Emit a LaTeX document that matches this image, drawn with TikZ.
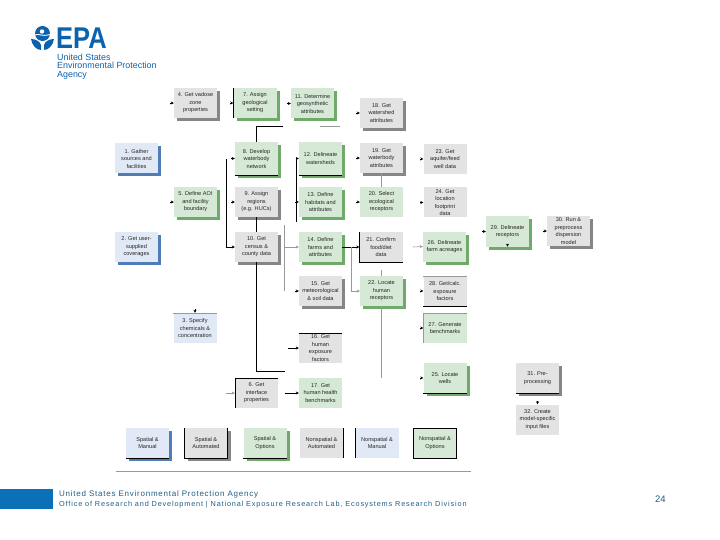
\documentclass[tikz,border=0pt]{standalone}
\usepackage{fontspec}
\setmainfont{Liberation Sans}
\usepackage{xcolor}
\usetikzlibrary{arrows.meta,shadows}
\definecolor{epaBlue}{HTML}{0B63AE}
\definecolor{footBlue}{HTML}{0A70B8}
\definecolor{footText}{HTML}{1F5D85}
\definecolor{manFill}{HTML}{E2E9F6}
\definecolor{manEdge}{HTML}{4F7DB8}
\definecolor{autoFill}{HTML}{E3E3E3}
\definecolor{autoEdge}{HTML}{868686}
\definecolor{optFill}{HTML}{D6E9D6}
\definecolor{optEdge}{HTML}{6FAA6A}
\begin{document}
\begin{tikzpicture}[x=1pt,y=-1pt,>={Stealth[length=3pt,width=3pt]},
  box/.style={minimum width=43pt,minimum height=30pt,inner sep=0pt,align=center,
    font=\fontsize{5.6}{7.5}\selectfont,text=black!85},
  man/.style={box,fill=manFill},
  auto/.style={box,fill=autoFill},
  opt/.style={box,fill=optFill},
  manS/.style={man,drop shadow={shadow xshift=3pt,shadow yshift=-3pt,fill=manEdge,opacity=1}},
  autoS/.style={auto,drop shadow={shadow xshift=3pt,shadow yshift=-3pt,fill=autoEdge,opacity=1}},
  optS/.style={opt,drop shadow={shadow xshift=3pt,shadow yshift=-3pt,fill=optEdge,opacity=1}},
  link/.style={black,line width=0.6pt},
  faint/.style={black!40,line width=0.6pt},
  rim/.style={black,line width=0.6pt},
  foot/.style={inner sep=0pt,anchor=west,text=footText}]
\useasboundingbox (0,0) rectangle (720,540);
% --- logo ---
\fill[epaBlue] (42.5,33.5) circle (7.5);
\fill[white] (42,31.5) circle (2.2);
\draw[white,line width=0.9pt] (35,35) .. controls (39,33) and (41,37) .. (50,34.5);
\fill[epaBlue] (31,39) .. controls (35,39) and (40,41) .. (41,45) -- (41,50) .. controls (36,50) and (32,45) .. (31,39) -- cycle;
\fill[epaBlue] (54,39) .. controls (50,39) and (45,41) .. (44,45) -- (44,50) .. controls (49,50) and (53,45) .. (54,39) -- cycle;
\node[inner sep=0pt,anchor=west,text=epaBlue,xscale=0.85,font=\fontsize{30}{30}\bfseries\selectfont] (epa) at (56,38) {EPA};
\node[inner sep=0pt,anchor=north west,align=left,text=epaBlue,font=\fontsize{8.9}{8.6}\selectfont] (agency) at (57,53.5) {United States\\Environmental Protection\\Agency};
% --- task boxes ---
\node[autoS] (b4) at (195.5,103) {4. Get vadose\\zone\\properties};
\node[optS] (b7) at (255,103) {7. Assign\\geological\\setting};
\node[optS] (b11) at (312.5,103.5) {11. Determine\\geosynthetic\\attributes};
\node[autoS] (b18) at (381.5,113) {18. Get\\watershed\\attributes};
\node[manS] (b1) at (136.5,158.5) {1. Gather\\sources and\\facilities};
\node[optS,minimum height=33pt] (b8) at (256.5,158.5) {8. Develop\\waterbody\\network};
\node[optS,minimum height=33pt] (b12) at (320.5,158.5) {12. Delineate\\watersheds};
\node[autoS] (b19) at (381.5,158) {19. Get\\waterbody\\attributes};
\node[auto] (b23) at (445,159) {23. Get\\aquifer/feed\\well data};
\node[optS] (b5) at (195.5,202) {5. Define AOI\\and facility\\boundary};
\node[autoS] (b9) at (256.5,202) {9. Assign\\regions\\(e.g. HUCs)};
\node[optS] (b13) at (320.5,202) {13. Define\\habitats and\\attributes};
\node[opt] (b20) at (381.5,202) {20. Select\\ecological\\receptors};
\node[auto] (b24) at (445,202.5) {24. Get\\location\\footprint\\data};
\node[manS] (b2) at (136.5,247) {2. Get user-\\supplied\\coverages};
\node[autoS] (b10) at (256.5,247) {10. Get\\census \&\\county data};
\node[optS] (b14) at (320.5,247) {14. Define\\farms and\\attributes};
\node[auto] (b21) at (381,247) {21. Confirm\\food/diet\\data};
\node[optS] (b26) at (444.5,246.5) {26. Delineate\\farm acreages};
\node[optS] (b29) at (507.5,231.5) {29. Delineate\\receptors};
\node[autoS] (b30) at (568.5,231) {30. Run \&\\preprocess\\dispersion\\model};
\node[autoS] (b15) at (320.5,291) {15. Get\\meteorological\\\& soil data};
\node[optS] (b22) at (381.5,291) {22. Locate\\human\\receptors};
\node[auto] (b28) at (445,291) {28. Get/calc.\\exposure\\factors};
\node[man] (b3) at (195,328) {3. Specify\\chemicals \&\\concentration};
\node[opt] (b27) at (445,328) {27. Generate\\benchmarks};
\node[auto] (b16) at (320.5,348) {16. Get\\human\\exposure\\factors};
\node[optS] (b25) at (445,378) {25. Locate\\wells};
\node[autoS] (b31) at (537.5,378) {31. Pre-\\processing};
\node[auto] (b6) at (256.5,393) {6. Get\\interface\\properties};
\node[opt] (b17) at (320.5,393) {17. Get\\human health\\benchmarks};
\node[auto] (b32) at (537.5,419.5) {32. Create\\model-specific\\input files};
% --- legend ---
\node[manS] (k1) at (147.5,443) {Spatial \&\\Manual};
\node[autoS] (k2) at (206,443) {Spatial \&\\Automated};
\node[optS] (k3) at (265,443) {Spatial \&\\Options};
\node[auto] (k4) at (321.5,443) {Nonspatial \&\\Automated};
\node[man] (k5) at (377,443) {Nonspatial \&\\Manual};
\node[opt] (k6) at (435,443) {Nonspatial \&\\Options};
% --- junctions ---
\coordinate (j7) at (256.5,126);
\coordinate (j7r) at (283,126);
\coordinate (j11l) at (320,126);
\coordinate (j11r) at (340,126);
\coordinate (jA) at (226,159);
\coordinate (jB) at (226,247);
\coordinate (jC) at (296,158.5);
\coordinate (jD) at (296,222);
\coordinate (jE) at (284.5,225);
\coordinate (jF) at (284.5,291);
\coordinate (jG) at (284.5,247);
\coordinate (jH) at (351,247);
\coordinate (jI) at (351,291);
\coordinate (jJ) at (284.5,371);
\coordinate (jK) at (381.5,270);
\coordinate (jL) at (381.5,378);
\coordinate (jM) at (413,247);
\coordinate (jN) at (226,393);
\coordinate (jO) at (284.5,393);
\coordinate (jP) at (288,348);
\coordinate (rule1) at (116,471);
\coordinate (rule2) at (471,471);
% --- connectors ---
\draw[link] (j7r) -- (j7) -- (b8.north);
\draw[faint] (j11l) -- (j11r);
\draw[link,->] (jA) -- (jB) -- (b10.west);
\draw[link,->] (jC) -- (b12.west);
\draw[link] (jC) -- (jD);
\draw[faint] (jE) -- (jF);
\draw[faint,->] (jG) -- (b14.west);
\draw[link,->] (b14.east) -- (b21.west);
\draw[faint] (jH) -- (jI);
\draw[faint,->] (jI) -- (b22.west);
\draw[faint] (b19.south) -- (b20.north);
\draw[faint] (jK) -- (b22.north);
\draw[faint] (b22.south) -- (jL);
\draw[faint,->] (jM) -- (b26.west);
\draw[link] (b9.south) -- (b10.north);
\draw[link] (b10.south) |- (jJ);
\draw[faint,->] (jN) -- (b6.west);
\draw[link,->] (jO) -- (b17.west);
\draw[link,->] (jP) -- (b16.west);
\draw[faint] (rule1) -- (rule2);
% stubs with a small head on the left of a box
\foreach \n in {b4,b7,b11,b18,b8,b19,b23,b5,b9,b13,b20,b24,b29,b30,b15,b28,b27,b25}
  \draw[link,->] ([xshift=-3.5pt]\n.west) -- (\n.west);
% stubs entering from above
\foreach \n in {b3,b32}
  \draw[link,->] ([yshift=3.5pt]\n.north) -- (\n.north);
\draw[link,<-] (b29.south) -- ([yshift=3pt]b29.south);
% --- dark rims ---
\draw[rim] (b7.north west) -- (b7.south west);
\draw[rim] (b8.south west) -- (b8.south east);
\draw[rim] (b12.south west) -- (b12.south east);
\draw[rim] (b21.north west) -- (b21.south west) -- (b21.south east);
\draw[rim] (b28.south west) -- (b28.south east);
\draw[rim] (b16.north west) -- (b16.north east);
\draw[rim] (b6.south west) -- (b6.north west) -- (b6.north east);
\draw[rim] (b25.south west) -- (b25.south east);
\draw[rim] (b31.south west) -- (b31.south east);
\draw[rim] (k1.south west) -- (k1.south east);
\draw[rim] (k2.north west) -- (k2.south west) -- (k2.south east);
\draw[rim] (k2.north east) -- (k2.south east);
\draw[rim] (k3.south west) -- (k3.south east);
\draw[rim] (k4.north east) -- (k4.south east);
\draw[rim] (k5.north west) -- (k5.south west);
\draw[rim] (k6.north west) rectangle (k6.south east);
\draw[faint] (b3.north west) -- (b3.north east);
\draw[faint] (b27.north west) -- (b27.north east);
\draw[faint] (b27.north west) -- (b27.south west);
\draw[faint] (b28.north west) -- (b28.north east);
% --- footer ---
\fill[footBlue] (0,489) rectangle (53,509);
\node[foot,font=\fontsize{8}{8}\selectfont] (fa) at (59,494.5) {\addfontfeature{LetterSpace=9.5}United States Environmental Protection Agency};
\node[foot,font=\fontsize{7.3}{8}\selectfont] (fb) at (59,505) {\addfontfeature{LetterSpace=11.5}Office of Research and Development | National Exposure Research Lab, Ecosystems Research Division};
\node[foot,font=\fontsize{9.5}{9.5}\selectfont] (page) at (655,499) {24};
\end{tikzpicture}
\end{document}
